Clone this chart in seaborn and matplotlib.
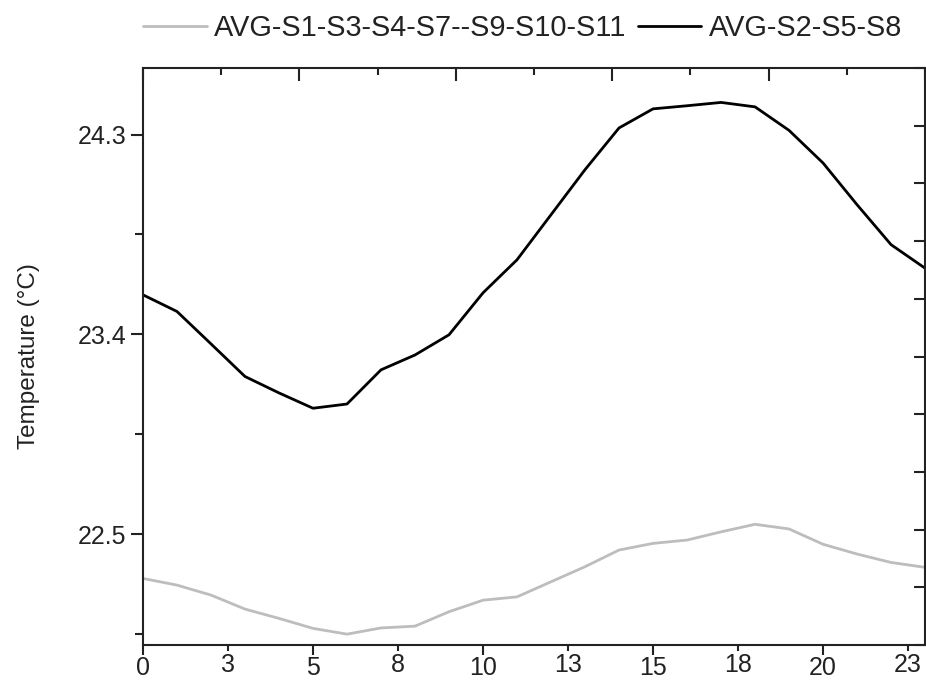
# Hourly average temperature of two sensor groups
import numpy as np
import pandas as pd
import matplotlib
matplotlib.use("Agg")
import matplotlib.pyplot as plt
import seaborn as sns

sns.set_theme(style="white")
plt.rcParams['font.family'] = ['Liberation Sans', 'DejaVu Sans']

# data
hours = list(range(24))
avg_s1_group = [22.300, 22.270, 22.225, 22.162, 22.120, 22.075, 22.049, 22.077,
                22.085, 22.150, 22.202, 22.217, 22.285, 22.353, 22.428, 22.458,
                22.473, 22.510, 22.544, 22.523, 22.454, 22.410, 22.372, 22.350]
avg_s2_group = [23.578, 23.503, 23.357, 23.210, 23.136, 23.067, 23.086, 23.240,
                23.307, 23.398, 23.587, 23.736, 23.939, 24.142, 24.330, 24.416,
                24.430, 24.445, 24.425, 24.319, 24.172, 23.984, 23.804, 23.698]
series_names = ['AVG-S1-S3-S4-S7--S9-S10-S11', 'AVG-S2-S5-S8']

x_major = [0, 5, 10, 15, 20]
x_major_labels = ['0', '5', '10', '15', '20']
x_minor = [2.5, 7.5, 12.5, 17.5, 22.5]
x_minor_labels = ['3', '8', '13', '18', '23']
y_major = [22.5, 23.4, 24.3]
y_minor = [22.05, 22.95, 23.85]

df = pd.DataFrame({
    'Hour': hours * 2,
    'Temperature': avg_s1_group + avg_s2_group,
    'Series': [series_names[0]] * len(hours) + [series_names[1]] * len(hours),
})

fig = plt.figure(figsize=(9.26, 6.83), dpi=100)
ax = fig.add_axes([0.1544, 0.0556, 0.8446, 0.8448])

palette = {series_names[0]: '#bdbdbd', series_names[1]: '#000000'}
sns.lineplot(data=df, x='Hour', y='Temperature', hue='Series', palette=palette,
             linewidth=2.0, ax=ax, legend=False)

ax.set_xlim(0, 23)
ax.set_ylim(22.0, 24.6)

# top and right inward ticks (twins made first so they don't touch ax ticks)
top = ax.twiny()
top.set_xlim(0, 23)
top_pos = np.linspace(0, 23, 11)
top.set_xticks(top_pos[::2])
top.set_xticks(top_pos[1::2], minor=True)
top.tick_params(axis='x', which='both', direction='in', labeltop=False,
                width=1.5, color='#222222', top=True)
top.tick_params(axis='x', which='major', length=9.5)
top.tick_params(axis='x', which='minor', length=5)

right = ax.twinx()
right.set_ylim(22.0, 24.6)
right.set_yticks(np.linspace(22.0, 24.6, 11))
right.tick_params(axis='y', direction='in', labelright=False, length=8,
                  width=1.5, color='#222222', right=True)
for a in (top, right):
    for sp in a.spines.values():
        sp.set_visible(False)

ax.set_xticks(x_major)
ax.set_xticklabels(x_major_labels)
ax.set_xticks(x_minor, minor=True)
ax.set_xticklabels(x_minor_labels, minor=True)
ax.set_yticks(y_major)
ax.set_yticklabels([f'{v:.1f}' for v in y_major])
ax.set_yticks(y_minor, minor=True)

ax.tick_params(axis='x', which='both', direction='out', labelsize=18, pad=1,
               width=1.5, color='#222222', labelcolor='#222222', bottom=True)
ax.tick_params(axis='x', which='major', length=7)
ax.tick_params(axis='x', which='minor', length=4.5)
ax.tick_params(axis='y', which='both', direction='out', labelsize=18, pad=3,
               width=1.5, color='#222222', labelcolor='#222222', left=True)
ax.tick_params(axis='y', which='major', length=9)
ax.tick_params(axis='y', which='minor', length=5.5)

ax.set_xlabel('')
ax.set_ylabel('Temperature (°C)', fontsize=17.5, color='#222222', labelpad=27)

for sp in ax.spines.values():
    sp.set_visible(True)
    sp.set_linewidth(1.5)
    sp.set_color('#222222')

handles = [plt.Line2D([], [], color=palette[n], linewidth=2.0) for n in series_names]
ax.legend(handles, series_names, loc='center left', bbox_to_anchor=(0, 1.07),
          ncol=2, frameon=False, fontsize=20.8, handlelength=2.2,
          handletextpad=0.25, columnspacing=0.4, borderaxespad=0, borderpad=0,
          labelcolor='#222222')

plt.savefig('out.png', dpi=100)
plt.close()
